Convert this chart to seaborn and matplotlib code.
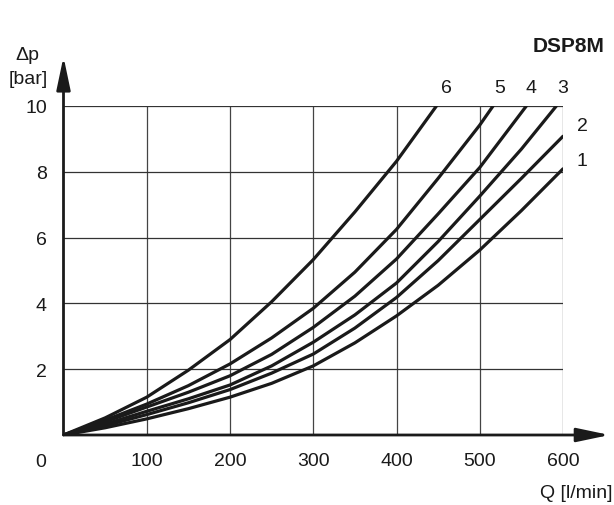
import numpy as np
import pandas as pd
import matplotlib
matplotlib.use("Agg")
import matplotlib.pyplot as plt
import seaborn as sns

# Pressure drop curves (Q in l/min, dp in bar)
q_1 = [0, 50, 100, 150, 200, 250, 300, 350, 400, 450, 500, 550, 600]
dp_1 = [0, 0.22, 0.49, 0.80, 1.15, 1.57, 2.10, 2.80, 3.62, 4.55, 5.62, 6.82, 8.09]

q_2 = [0, 50, 100, 150, 200, 250, 300, 350, 400, 450, 500, 550, 600]
dp_2 = [0, 0.28, 0.62, 0.98, 1.38, 1.88, 2.46, 3.25, 4.18, 5.30, 6.55, 7.80, 9.08]

q_3 = [0, 50, 100, 150, 200, 250, 300, 350, 400, 450, 500, 550, 592]
dp_3 = [0, 0.33, 0.72, 1.10, 1.52, 2.10, 2.82, 3.65, 4.62, 5.88, 7.26, 8.69, 10.0]

q_4 = [0, 50, 100, 150, 200, 250, 300, 350, 400, 450, 500, 550, 556]
dp_4 = [0, 0.40, 0.85, 1.30, 1.80, 2.45, 3.27, 4.22, 5.35, 6.72, 8.13, 9.80, 10.0]

q_5 = [0, 50, 100, 150, 200, 250, 300, 350, 400, 450, 500, 516]
dp_5 = [0, 0.45, 0.94, 1.50, 2.16, 2.95, 3.85, 4.95, 6.25, 7.80, 9.42, 10.0]

q_6 = [0, 50, 100, 150, 200, 250, 300, 350, 400, 448]
dp_6 = [0, 0.52, 1.15, 1.97, 2.90, 4.05, 5.33, 6.78, 8.32, 10.0]

curve_names = ["1", "2", "3", "4", "5", "6"]
x_ticks = [100, 200, 300, 400, 500, 600]
y_ticks = [2, 4, 6, 8, 10]

# curve label anchors (data coords)
label_x = [623, 623, 600, 561, 524, 460]
label_y = [8.33, 9.40, 10.55, 10.55, 10.55, 10.55]

frames = []
for name, q, dp in zip(curve_names,
                       [q_1, q_2, q_3, q_4, q_5, q_6],
                       [dp_1, dp_2, dp_3, dp_4, dp_5, dp_6]):
    frames.append(pd.DataFrame({"Q": q, "dp": dp, "curve": name}))
df = pd.concat(frames, ignore_index=True)

sns.set_style("white")
plt.rcParams["font.family"] = ["Liberation Sans", "DejaVu Sans"]

fig = plt.figure(figsize=(6.14, 5.06), dpi=100)
ax = fig.add_axes([63.5 / 614, 70 / 506, 499.5 / 614, 329 / 506])

# grid
for xv in x_ticks:
    ax.axvline(xv, color="#444444", lw=0.9, zorder=1)
for yv in y_ticks:
    ax.axhline(yv, color="#333333", lw=0.9, zorder=1)

sns.lineplot(data=df, x="Q", y="dp", units="curve", estimator=None,
             color="#1a1a1a", lw=2.3, ax=ax, legend=False, zorder=3,
             solid_capstyle="round", solid_joinstyle="round")

ax.set_xlim(0, 600)
ax.set_ylim(0, 10)
for s in ax.spines.values():
    s.set_visible(False)

# axes with arrows
arrow = dict(arrowstyle="-|>,head_length=2.0,head_width=0.42",
             mutation_scale=10, color="#1a1a1a", lw=2.0, shrinkA=0, shrinkB=0)
ax.annotate("", xy=(656, 0), xytext=(0, 0), xycoords="data",
            arrowprops=arrow, annotation_clip=False, zorder=4)
ax.annotate("", xy=(0, 11.5), xytext=(0, 0), xycoords="data",
            arrowprops=arrow, annotation_clip=False, zorder=4)

ax.set_xticks(x_ticks)
ax.set_xticklabels([str(v) for v in x_ticks])
ax.set_yticks(y_ticks)
ax.set_yticklabels([str(v) for v in y_ticks])
ax.tick_params(axis="both", length=0, labelsize=14, colors="#1a1a1a")
ax.tick_params(axis="x", pad=12)
ax.tick_params(axis="y", pad=12)
ax.set_xlabel("")
ax.set_ylabel("")

ax.text(-28, -0.8, "0", ha="center", va="center", fontsize=14,
        color="#1a1a1a", clip_on=False)

for name, lx, ly in zip(curve_names, label_x, label_y):
    ax.text(lx, ly, name, ha="center", va="center", fontsize=14,
            color="#1a1a1a", clip_on=False)

fig.text(612 / 614, 1 - 494 / 506, "Q [l/min]", ha="right", va="center",
         fontsize=14, color="#1a1a1a")
fig.text(27 / 614, 1 - 56 / 506, "Δp", ha="center", va="center",
         fontsize=14, color="#1a1a1a")
fig.text(28 / 614, 1 - 79 / 506, "[bar]", ha="center", va="center",
         fontsize=14, color="#1a1a1a")
fig.text(604 / 614, 1 - 47 / 506, "DSP8M", ha="right", va="center",
         fontsize=15, fontweight="bold", color="#1a1a1a")

fig.savefig("out.png", dpi=100)
